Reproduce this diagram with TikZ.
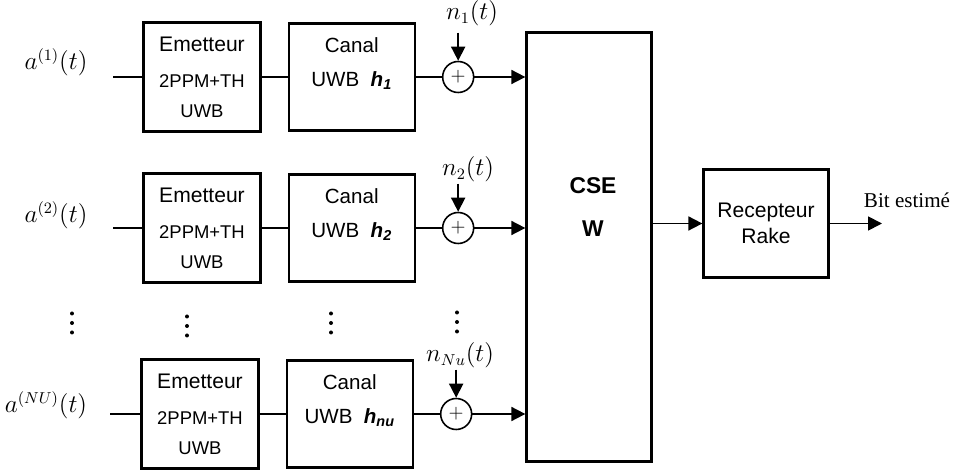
\documentclass[tikz,border=0pt]{standalone}
\usepackage{fontspec}
\setmainfont{Liberation Sans}
\newfontfamily\timesfont{Liberation Serif}
\usepackage{tikz}
\usetikzlibrary{positioning,arrows.meta,calc}
\newcommand{\hch}[1]{\textbf{\textit{h}\textsubscript{\textit{#1}}}}
\tikzset{
  blk/.style={draw, line width=1.3pt, inner sep=0pt, align=center},
  txbox/.style={blk, minimum width=2.34cm, minimum height=2.18cm,
                font=\fontsize{10.5}{17}\selectfont},
  chbox/.style={blk, minimum width=2.52cm, minimum height=2.14cm,
                font=\fontsize{11.7}{17}\selectfont},
  bigbox/.style={blk, minimum width=2.5cm},
  adder/.style={circle, draw, line width=0.9pt, minimum size=0.62cm, inner sep=0pt,
                font=\fontsize{11}{12}\selectfont},
  wire/.style={line width=1.2pt},
  sig/.style={-{Triangle[length=2.8mm,width=2.8mm]}, line width=1pt},
  mlbl/.style={inner sep=0pt, font=\fontsize{13.5}{15}\selectfont}
}

\begin{document}
\begin{tikzpicture}[x=0.02cm, y=-0.02cm]
\useasboundingbox (0,0) rectangle (954,472);
\node[bigbox, minimum height=8.58cm] (cse) at (589,247) {};
\node[font=\bfseries\fontsize{13}{25}\selectfont, align=center] (csetxt) at (593,207) {CSE\\W};
\node[bigbox, minimum height=2.16cm, font=\fontsize{12}{14.7}\selectfont] (rake) at (766,223.5) {Recepteur\\Rake};
\node[font=\timesfont\fontsize{12}{14}\selectfont] (bit) at (907,200) {Bit estimé};
\coordinate (out) at (882,223.5);
\draw[sig] (cse.east |- rake) -- (rake);
\draw[sig] (rake) -- (out);

\node[txbox] (e1) at (202,77) {{\fontsize{12}{17}\selectfont Emetteur}\\[3.4pt]2PPM+TH\\UWB};
\node[chbox, right=0.52cm of e1] (c1) {Canal\\[2.8pt]UWB~~\hch{1}\\\vphantom{U}};
\node[adder, right=0.52cm of c1] (s1) {$+$};
\node[mlbl] (a1) at (56,62) {$a^{(1)}(t)$};
\node[mlbl] (n1) at (472,13) {$n_1(t)$};
\coordinate (in1) at (113,77);
\coordinate (n1top) at ($(s1.north)+(0,-28)$);
\draw[wire] (in1) -- (e1);
\draw[wire] (e1) -- (c1);
\draw[wire] (c1) -- (s1);
\draw[sig] (n1top) -- (s1.north);
\draw[sig] (s1) -- (s1 -| cse.west);

\node[txbox] (e2) at (202,228) {{\fontsize{12}{17}\selectfont Emetteur}\\[3.4pt]2PPM+TH\\UWB};
\node[chbox, right=0.52cm of e2] (c2) {Canal\\[2.8pt]UWB~~\hch{2}\\\vphantom{U}};
\node[adder, right=0.52cm of c2] (s2) {$+$};
\node[mlbl] (a2) at (56,215) {$a^{(2)}(t)$};
\node[mlbl] (n2) at (468,169) {$n_2(t)$};
\coordinate (in2) at (113,228);
\coordinate (n2top) at ($(s2.north)+(0,-28)$);
\draw[wire] (in2) -- (e2);
\draw[wire] (e2) -- (c2);
\draw[wire] (c2) -- (s2);
\draw[sig] (n2top) -- (s2.north);
\draw[sig] (s2) -- (s2 -| cse.west);

\node[txbox] (e3) at (200,414) {{\fontsize{12}{17}\selectfont Emetteur}\\[3.4pt]2PPM+TH\\UWB};
\node[chbox, right=0.52cm of e3] (c3) {Canal\\[2.8pt]UWB~~\hch{nu}\\\vphantom{U}};
\node[adder, right=0.52cm of c3] (s3) {$+$};
\node[mlbl] (a3) at (46,405) {$a^{(NU)}(t)$};
\node[mlbl] (n3) at (460,355) {$n_{Nu}(t)$};
\coordinate (in3) at (110,414);
\coordinate (n3top) at ($(s3.north)+(0,-28)$);
\draw[wire] (in3) -- (e3);
\draw[wire] (e3) -- (c3);
\draw[wire] (c3) -- (s3);
\draw[sig] (n3top) -- (s3.north);
\draw[sig] (s3) -- (s3 -| cse.west);

\foreach \x/\y in {72/323,187/326,331/323,457/322}
  \foreach \d in {-9.5,0,9.5}
    \fill (\x,\y+\d) circle (0.04cm);
\end{tikzpicture}
\end{document}
